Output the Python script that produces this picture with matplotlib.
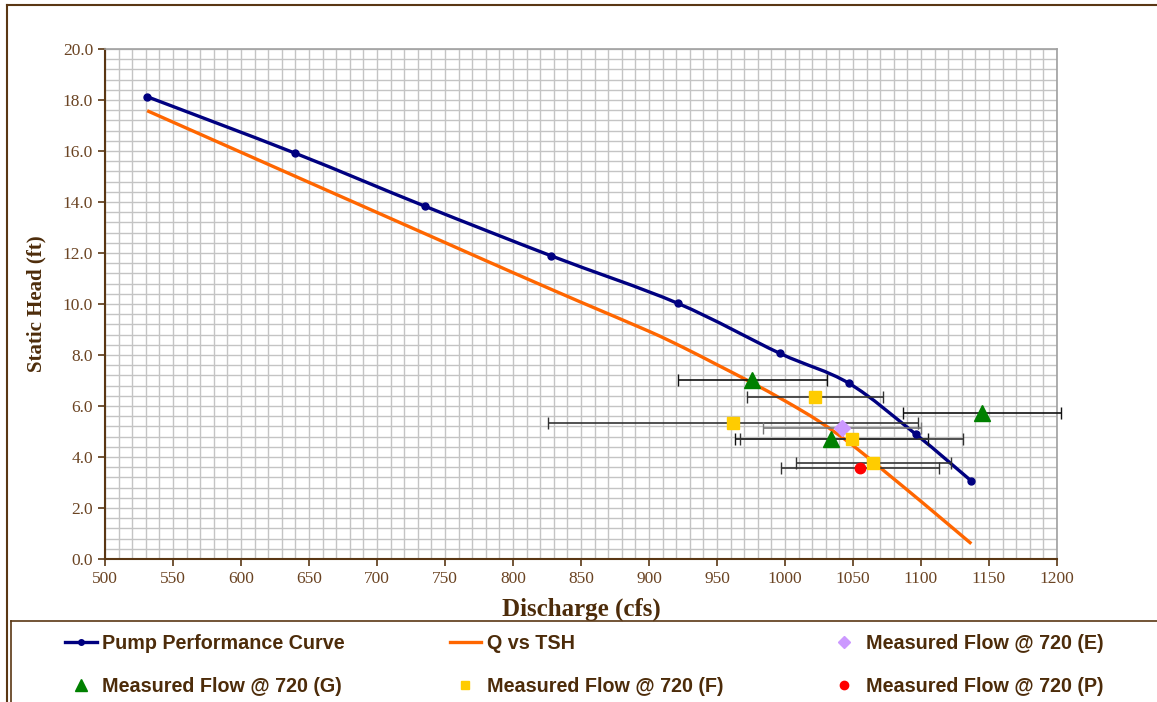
import matplotlib
matplotlib.use("Agg")
import matplotlib.pyplot as plt
import numpy as np
from matplotlib.path import Path
from matplotlib.patches import PathPatch
from matplotlib.lines import Line2D

# Pump performance curve (points with markers)
pump_q = [531, 640, 735, 828, 921, 996, 1047, 1096, 1137]
pump_h = [18.13, 15.91, 13.84, 11.89, 10.03, 8.07, 6.89, 4.90, 3.06]

# Q vs TSH curve
tsh_q = [531, 600, 650, 700, 750, 800, 850, 900, 925, 950, 975, 1000, 1025, 1050, 1075, 1100, 1137]
tsh_h = [17.58, 15.95, 14.77, 13.59, 12.41, 11.23, 10.07, 8.93, 8.30, 7.62, 6.93, 6.20, 5.40, 4.45, 3.36, 2.26, 0.60]

# Measured flows @ 720, with horizontal error
e_q = [1042]
e_h = [5.15]
e_err = [58]

g_q = [976, 1145, 1034]
g_h = [7.02, 5.72, 4.70]
g_err = [55, 58, 71]

f_q = [1022, 962, 1049, 1065]
f_h = [6.36, 5.32, 4.70, 3.78]
f_err = [50, 136, 82, 57]

p_q = [1055]
p_h = [3.56]
p_err = [58]

BROWN = "#5a3714"
TXT = "#4d2c0a"
NAVY = "#000080"
ORANGE = "#ff6600"


def smooth_path(xs, ys):
    # excel-like smoothed line: catmull-rom converted to cubic bezier
    pts = np.column_stack([xs, ys]).astype(float)
    n = len(pts)
    verts = [pts[0]]
    codes = [Path.MOVETO]
    for i in range(n - 1):
        p0 = pts[i - 1] if i > 0 else pts[i]
        p1 = pts[i]
        p2 = pts[i + 1]
        p3 = pts[i + 2] if i + 2 < n else pts[i + 1]
        verts += [p1 + (p2 - p0) / 6, p2 - (p3 - p1) / 6, p2]
        codes += [Path.CURVE4] * 3
    return Path(verts, codes)


fig = plt.figure(figsize=(11.57, 7.02), dpi=100)
ax = fig.add_axes([105 / 1157, 1 - 559 / 702, 952 / 1157, 510 / 702])

ax.set_xlim(500, 1200)
ax.set_ylim(0, 20)
ax.set_xticks(np.arange(500, 1201, 50))
ax.set_yticks(np.arange(0, 20.1, 2))
ax.set_xticks(np.arange(500, 1201, 10), minor=True)
ax.set_yticks(np.arange(0, 20.01, 0.4), minor=True)
ax.grid(which="both", color="#c4c4c4", lw=1.0)
ax.set_axisbelow(True)
ax.tick_params(which="minor", length=0)
ax.tick_params(which="major", direction="out", length=5, width=1.2, color=BROWN,
               labelcolor="#6b4423", labelsize=12.5)
ax.set_xticklabels([str(v) for v in range(500, 1201, 50)], family="Liberation Serif")
ax.set_yticklabels(["%.1f" % v for v in np.arange(0, 20.1, 2)], family="Liberation Serif")

for s in ["left", "bottom"]:
    ax.spines[s].set_color(BROWN)
    ax.spines[s].set_linewidth(1.5)
for s in ["top", "right"]:
    ax.spines[s].set_color("#a0a0a0")
    ax.spines[s].set_linewidth(1.2)

# curves
ax.add_patch(PathPatch(smooth_path(pump_q, pump_h), fill=False, edgecolor=NAVY, lw=2.4, zorder=3))
ax.plot(pump_q, pump_h, linestyle="none", marker="o", ms=5, color=NAVY, zorder=4)
ax.add_patch(PathPatch(smooth_path(tsh_q, tsh_h), fill=False, edgecolor=ORANGE, lw=2.4, zorder=3))

# error bars (allowed to run past the plot edge like the original)
for q, h, err, col in [(g_q, g_h, g_err, "#111111"), (f_q, f_h, f_err, "#333333"),
                       (e_q, e_h, e_err, "#777777"), (p_q, p_h, p_err, "#333333")]:
    eb = ax.errorbar(q, h, xerr=err, fmt="none", ecolor=col, elinewidth=1.2, capsize=4, zorder=3.5)
    for art in eb.lines[1] + eb.lines[2]:
        art.set_clip_on(False)

# markers
e_mk, = ax.plot(e_q, e_h, linestyle="none", marker="D", ms=8, color="#cc99ff", zorder=5)
g_mk, = ax.plot(g_q, g_h, linestyle="none", marker="^", ms=11, color="#008000", zorder=5)
f_mk, = ax.plot(f_q, f_h, linestyle="none", marker="s", ms=8, color="#ffcc00", zorder=5)
p_mk, = ax.plot(p_q, p_h, linestyle="none", marker="o", ms=7.5, color="#ff0000", zorder=5)

ax.set_xlabel("Discharge (cfs)", family="Liberation Serif", weight="bold", fontsize=18,
              color=TXT, labelpad=8)
ax.set_ylabel("Static Head (ft)", family="Liberation Serif", weight="bold", fontsize=15,
              color=TXT, labelpad=12)

# legend (order filled column by column)
pump_h_leg = Line2D([], [], color=NAVY, lw=2.4, marker="o", ms=5)
tsh_h_leg = Line2D([], [], color=ORANGE, lw=2.4)
handles = [pump_h_leg, g_mk, tsh_h_leg, f_mk, e_mk, p_mk]
labels = ["Pump Performance Curve", "Measured Flow @ 720 (G)",
          "Q vs TSH", "Measured Flow @ 720 (F)",
          "Measured Flow @ 720 (E)", "Measured Flow @ 720 (P)"]
fig.legend(handles, labels, ncol=3, loc="upper left", bbox_to_anchor=(65 / 1157, 1 - 634 / 702),
           frameon=False, borderpad=0, borderaxespad=0,
           prop={"family": "Liberation Sans", "weight": "bold", "size": 14.2},
           labelcolor=TXT, handlelength=1.6, handletextpad=0.3,
           columnspacing=5.3, labelspacing=1.2, markerscale=0.8)

# outer frames
fig.add_artist(Line2D([7 / 1157, 7 / 1157], [0, 1 - 5 / 702], color=BROWN, lw=1.5))
fig.add_artist(Line2D([7 / 1157, 1], [1 - 5 / 702, 1 - 5 / 702], color=BROWN, lw=1.5))
fig.add_artist(Line2D([11 / 1157, 11 / 1157], [0, 1 - 621 / 702], color=BROWN, lw=1.2))
fig.add_artist(Line2D([11 / 1157, 1], [1 - 621 / 702, 1 - 621 / 702], color=BROWN, lw=1.2))

fig.savefig("out.png", dpi=100)
